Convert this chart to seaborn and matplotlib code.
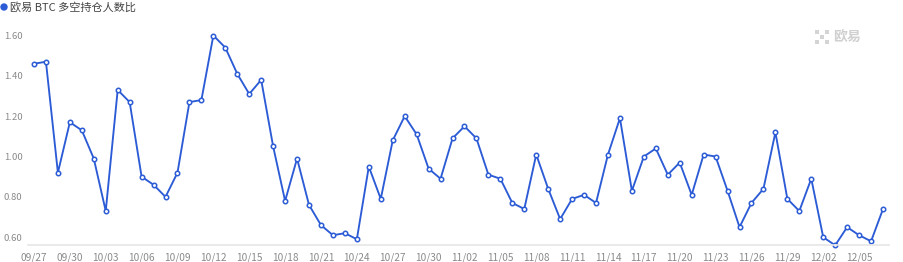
import matplotlib
matplotlib.use("Agg")
import matplotlib.pyplot as plt
import matplotlib.patches as mpatches
import seaborn as sns
import pandas as pd
import numpy as np

dates = [d.strftime("%m/%d") for d in pd.date_range("2023-09-27", "2023-12-07", freq="D")]
ratio = [1.46, 1.47, 0.92, 1.17, 1.13, 0.99, 0.73, 1.33, 1.27, 0.90,
         0.86, 0.80, 0.92, 1.27, 1.28, 1.60, 1.54, 1.41, 1.31, 1.38,
         1.05, 0.78, 0.99, 0.76, 0.66, 0.61, 0.62, 0.59, 0.95, 0.79,
         1.08, 1.20, 1.11, 0.94, 0.89, 1.09, 1.15, 1.09, 0.91, 0.89,
         0.77, 0.74, 1.01, 0.84, 0.69, 0.79, 0.81, 0.77, 1.01, 1.19,
         0.83, 1.00, 1.04, 0.91, 0.97, 0.81, 1.01, 1.00, 0.83, 0.65,
         0.77, 0.84, 1.12, 0.79, 0.73, 0.89, 0.60, 0.56, 0.65, 0.61,
         0.58, 0.74]
y_ticks = [0.60, 0.80, 1.00, 1.20, 1.40, 1.60]
title = "欧易 BTC 多空持仓人数比"

df = pd.DataFrame({"idx": np.arange(len(dates)), "date": dates, "ratio": ratio})

sns.set_theme(style="white")
plt.rcParams["font.family"] = ["Noto Sans CJK SC", "DejaVu Sans"]

W, H = 904, 262
fig = plt.figure(figsize=(W / 100, H / 100), dpi=100)
ax = fig.add_axes([28 / W, (H - 245.3) / H, (889 - 28) / W, (245.3 - 35.5) / H])

blue = "#2c5bd6"
sns.lineplot(data=df, x="idx", y="ratio", ax=ax, color=blue, linewidth=1.35,
             marker="o", markersize=3.2, markerfacecolor="white",
             markeredgecolor=blue, markeredgewidth=1.1, clip_on=False)

ax.set_xlim(-0.5, len(dates) - 0.5)
ax.set_ylim(min(ratio), max(ratio))
ax.set_xticks(df["idx"][::3])
ax.set_xticklabels(df["date"][::3])
ax.set_yticks(y_ticks)
ax.set_yticklabels([f"{v:.2f}" for v in y_ticks])
ax.set_xlabel("")
ax.set_ylabel("")
ax.tick_params(axis="x", length=0, pad=5, labelsize=7.3, colors="#8a8a8a")
ax.tick_params(axis="y", length=0, pad=4, labelsize=6.8, colors="#8a8a8a")
for s in ["top", "right", "left"]:
    ax.spines[s].set_visible(False)
ax.spines["bottom"].set_color("#e6e6e6")
ax.spines["bottom"].set_linewidth(1.2)
ax.grid(False)

# legend / title
fig.add_artist(mpatches.Ellipse((4 / W, 1 - 7 / H), width=6 / W, height=6 / H,
                                transform=fig.transFigure, color=blue))
fig.text(10 / W, 1 - 7 / H, title, fontsize=8, color="#444444", va="center", ha="left")

# watermark
sq = 3.6
for (cx, cy) in [(817, 32), (827, 32), (822, 37), (817, 42), (827, 42)]:
    fig.add_artist(mpatches.Rectangle(((cx - sq / 2) / W, 1 - (cy + sq / 2) / H), sq / W, sq / H,
                                      transform=fig.transFigure, color="#d4d4d4", lw=0))
fig.text(833 / W, 1 - 37 / H, "欧易", fontsize=10, color="#d0d0d0", va="center", ha="left",
         fontweight="bold")

fig.savefig("out.png", dpi=100)
